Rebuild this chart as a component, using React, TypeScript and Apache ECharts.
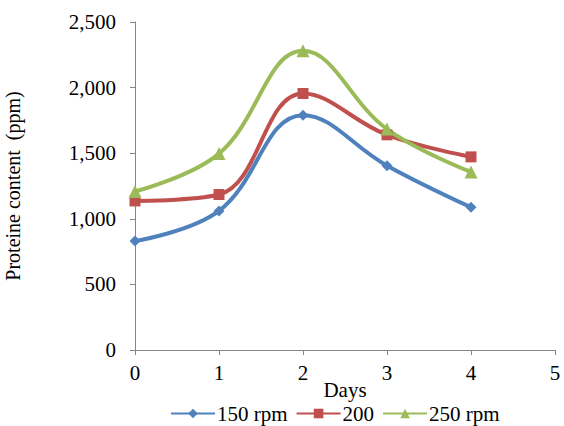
import React, { useEffect, useRef } from "react";
import * as echarts from "echarts";

const days = [0, 1, 2, 3, 4];
const rpm150 = [830, 1060, 1790, 1405, 1088];
const rpm200 = [1136, 1185, 1955, 1640, 1472];
const rpm250 = [1208, 1497, 2280, 1684, 1357];
const seriesNames = ["150 rpm", "200", "250 rpm"];
const colors = ["#4F81BD", "#C0504D", "#9BBB59"];
const symbols = ["diamond", "rect", "triangle"];
const symbolSizes = [11, 11, 13];

const FONT = "'Liberation Serif', 'Times New Roman', serif";

export default function App() {
  const ref = useRef<HTMLDivElement>(null);
  useEffect(() => {
    if (!ref.current) return;
    const chart = echarts.init(ref.current, undefined, { renderer: "svg" });
    const all = [rpm150, rpm200, rpm250];
    chart.setOption({
      animation: false,
      grid: { left: 135, right: 9, top: 22, bottom: 76, containLabel: false, outerBoundsMode: "none" },
      legend: {
        bottom: 2,
        left: 170,
        itemWidth: 44,
        itemHeight: 12,
        itemGap: 8,
        padding: 0,
        textStyle: { fontFamily: FONT, fontSize: 21, color: "#000", padding: [0, 0, 0, -3] },
        data: seriesNames,
      },
      xAxis: {
        type: "value",
        min: 0,
        max: 5,
        interval: 1,
        name: "Days",
        nameLocation: "middle",
        nameGap: 29,
        nameMoveOverlap: false,
        nameTextStyle: { fontFamily: FONT, fontSize: 21, color: "#000" },
        axisLine: { show: true, lineStyle: { color: "#868686", width: 1 } },
        axisTick: { show: true, length: 5, lineStyle: { color: "#868686" } },
        axisLabel: { fontFamily: FONT, fontSize: 21, color: "#000", margin: 12 },
        splitLine: { show: false },
      },
      yAxis: {
        type: "value",
        min: 0,
        max: 2500,
        interval: 500,
        name: "Proteine content  (ppm)",
        nameLocation: "middle",
        nameGap: 112,
        nameMoveOverlap: false,
        nameTextStyle: { fontFamily: FONT, fontSize: 20, color: "#000" },
        axisLine: { show: true, lineStyle: { color: "#868686", width: 1 } },
        axisTick: { show: true, length: 5, lineStyle: { color: "#868686" } },
        axisLabel: {
          fontFamily: FONT,
          fontSize: 21,
          color: "#000",
          margin: 19,
          formatter: (v: number) => v.toLocaleString("en-US"),
        },
        splitLine: { show: false },
      },
      series: seriesNames.map((name, i) => ({
        name,
        type: "line",
        smooth: 0.4,
        clip: false,
        data: days.map((d, j) => [d, all[i][j]]),
        symbol: symbols[i],
        symbolSize: symbolSizes[i],
        showAllSymbol: true,
        lineStyle: { color: colors[i], width: 4 },
        itemStyle: { color: colors[i] },
      })),
    });
    return () => chart.dispose();
  }, []);
  return <div ref={ref} style={{ width: 564, height: 426, position: "absolute", left: 0, top: 0 }} />;
}
